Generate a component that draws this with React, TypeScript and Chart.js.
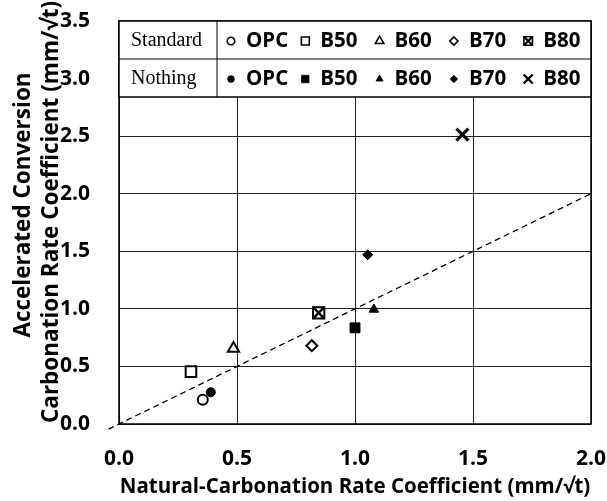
import React, { useEffect, useRef } from "react";
import { Chart, registerables } from "chart.js";
import { drawPoint } from "chart.js/helpers";

Chart.register(...registerables);

// ---- data ----
const seriesNames = ["OPC", "B50", "B60", "B70", "B80"];
const rowLabels = ["Standard", "Nothing"];
const standardX = [0.355, 0.305, 0.485, 0.817, 0.846];
const standardY = [0.21, 0.455, 0.655, 0.68, 0.965];
const nothingX = [0.389, 1.0, 1.08, 1.054, 1.455];
const nothingY = [0.276, 0.835, 0.995, 1.47, 2.513];
const refLineX = [-0.045, 2.0];
const refLineY = [-0.045, 2.0];
const xTickValues = [0, 0.5, 1.0, 1.5, 2.0];
const yTickValues = [0, 0.5, 1.0, 1.5, 2.0, 2.5, 3.0, 3.5];
const xTitle = "Natural-Carbonation Rate Coefficient (mm/\u221At)";
const yTitle = ["Accelerated Conversion", "Carbonation Rate Coefficient (mm/\u221At)"];

// ---- styles ----
type MarkStyle = { pointStyle: any; radius: number; filled: boolean; borderWidth: number; overlay?: MarkStyle };
const standardStyles: MarkStyle[] = [
  { pointStyle: "circle", radius: 5, filled: false, borderWidth: 2 },
  { pointStyle: "rect", radius: 7.5, filled: false, borderWidth: 2 },
  { pointStyle: "triangle", radius: 6.5, filled: false, borderWidth: 2 },
  { pointStyle: "rectRot", radius: 5.5, filled: false, borderWidth: 2 },
  { pointStyle: "rect", radius: 8, filled: false, borderWidth: 2, overlay: { pointStyle: "crossRot", radius: 8, filled: false, borderWidth: 2.5 } },
];
const nothingStyles: MarkStyle[] = [
  { pointStyle: "circle", radius: 4.5, filled: true, borderWidth: 1 },
  { pointStyle: "rect", radius: 7, filled: true, borderWidth: 1 },
  { pointStyle: "triangle", radius: 5.5, filled: true, borderWidth: 1 },
  { pointStyle: "rectRot", radius: 5, filled: true, borderWidth: 1 },
  { pointStyle: "crossRot", radius: 8.5, filled: false, borderWidth: 3 },
];

const SANS = "'Open Sans', 'DejaVu Sans', sans-serif";
const SERIF = "'Liberation Serif', 'DejaVu Serif', serif";

function makeDataset(label: string, x: number, y: number, s: MarkStyle, order: number) {
  return {
    type: "scatter" as const,
    label,
    order,
    data: [{ x, y }],
    pointStyle: s.pointStyle,
    pointRadius: s.radius,
    pointHoverRadius: s.radius,
    pointBorderWidth: s.borderWidth,
    pointBorderColor: "#000",
    pointBackgroundColor: s.filled ? "#000" : "#fff",
    showLine: false,
  };
}

const yTitlePlugin = {
  id: "yTitle",
  afterDraw(chart: any) {
    const { ctx } = chart;
    const xs = [24, 52];
    const ys = [205, 212];
    ctx.save();
    ctx.fillStyle = "#000";
    ctx.font = `bold 22.5px ${SANS}`;
    ctx.textAlign = "center";
    ctx.textBaseline = "middle";
    yTitle.forEach((t, i) => {
      ctx.save();
      ctx.translate(xs[i], ys[i]);
      ctx.rotate(-Math.PI / 2);
      ctx.fillText(t, 0, 0);
      ctx.restore();
    });
    ctx.restore();
  },
};

const tablePlugin = {
  id: "legendTable",
  afterDraw(chart: any) {
    const { ctx, chartArea } = chart;
    const left = chartArea.left;
    const right = chartArea.right;
    const top = chartArea.top;
    const rowH = 38;
    const bottom = top + 2 * rowH;
    const sep = left + 98;
    ctx.save();
    ctx.strokeStyle = "#000";
    ctx.lineWidth = 1.5;
    ctx.strokeRect(left, chartArea.top, right - left, chartArea.bottom - chartArea.top);
    ctx.fillStyle = "#fff";
    ctx.fillRect(left, top, right - left, bottom - top);
    ctx.lineWidth = 1.5;
    ctx.strokeRect(left, top, right - left, bottom - top);
    ctx.beginPath();
    ctx.moveTo(left, top + rowH);
    ctx.lineTo(right, top + rowH);
    ctx.moveTo(sep, top);
    ctx.lineTo(sep, bottom);
    ctx.lineWidth = 1;
    ctx.stroke();

    const rows = [standardStyles, nothingStyles];
    rows.forEach((styles, r) => {
      const cy = top + rowH * r + rowH / 2 + 1;
      ctx.fillStyle = "#000";
      ctx.font = `20px ${SERIF}`;
      ctx.textAlign = "left";
      ctx.textBaseline = "middle";
      ctx.fillText(rowLabels[r], left + 12, cy);
      styles.forEach((s, i) => {
        const mx = sep + 14 + i * 74.3;
        const draw = (st: MarkStyle, scale: number) => {
          ctx.save();
          ctx.strokeStyle = "#000";
          ctx.fillStyle = st.filled ? "#000" : "#fff";
          ctx.lineWidth = st.borderWidth * 0.8;
          drawPoint(ctx, { pointStyle: st.pointStyle, radius: st.radius * scale, borderWidth: st.borderWidth * 0.8, rotation: 0 }, mx, cy);
          ctx.restore();
        };
        draw(s, 0.75);
        if (s.overlay) draw(s.overlay, 0.75);
        ctx.fillStyle = "#000";
        ctx.font = `bold 20.5px ${SANS}`;
        ctx.textAlign = "left";
        ctx.textBaseline = "middle";
        ctx.fillText(seriesNames[i], mx + 15, cy);
      });
    });
    ctx.restore();
  },
};

export default function App() {
  const ref = useRef<HTMLCanvasElement | null>(null);
  useEffect(() => {
    if (!ref.current) return;
    const datasets: any[] = [];
    datasets.push({
      type: "line" as const,
      label: "ref",
      order: 10,
      data: refLineX.map((x, i) => ({ x, y: refLineY[i] })),
      borderColor: "#000",
      borderWidth: 1.3,
      borderDash: [6, 4],
      pointRadius: 0,
      fill: false,
      clip: false,
    });
    seriesNames.forEach((n, i) => {
      datasets.push(makeDataset("Standard " + n, standardX[i], standardY[i], standardStyles[i], 5));
      const ov = standardStyles[i].overlay;
      if (ov) datasets.push(makeDataset("Standard " + n + " x", standardX[i], standardY[i], ov, 1));
    });
    seriesNames.forEach((n, i) => {
      datasets.push(makeDataset("Nothing " + n, nothingX[i], nothingY[i], nothingStyles[i], 3));
    });

    const chart = new Chart(ref.current, {
      type: "scatter",
      data: { datasets },
      plugins: [tablePlugin, yTitlePlugin],
      options: {
        responsive: false,
        animation: false,
        devicePixelRatio: 1,
        layout: { padding: { left: 0, right: 16, top: 21, bottom: 0 } },
        plugins: { legend: { display: false }, tooltip: { enabled: false } },
        scales: {
          x: {
            type: "linear",
            min: 0,
            max: 2,
            afterBuildTicks: (s: any) => { s.ticks = xTickValues.map((v) => ({ value: v })); },
            afterFit: (s: any) => { s.height = 77; s.paddingLeft = 0; s.paddingRight = 0; s.paddingTop = 0; s.paddingBottom = 0; },
            grid: { color: "#222", lineWidth: 1, drawTicks: false },
            border: { display: false },
            ticks: {
              padding: 22,
              color: "#000",
              font: { family: SANS, size: 21, weight: "bold", lineHeight: 1.2 },
              callback: (v: any) => Number(v).toFixed(1),
              maxRotation: 0,
            },
            title: {
              display: true,
              text: xTitle,
              color: "#000",
              font: { family: SANS, size: 20.5, weight: "bold", lineHeight: 1.15 },
              padding: { top: 0, bottom: 2 },
            },
          },
          y: {
            type: "linear",
            min: 0,
            max: 3.5,
            afterBuildTicks: (s: any) => { s.ticks = yTickValues.map((v) => ({ value: v })); },
            afterFit: (s: any) => { s.width = 119; s.paddingLeft = 0; s.paddingRight = 0; s.paddingTop = 0; s.paddingBottom = 0; },
            grid: { color: "#222", lineWidth: 1, drawTicks: false },
            border: { display: false },
            ticks: {
              padding: 29,
              color: "#000",
              font: { family: SANS, size: 21, weight: "bold", lineHeight: 1.2 },
              callback: (v: any) => Number(v).toFixed(1),
            },
            title: { display: false },
          },
        },
      } as any,
    });
    return () => chart.destroy();
  }, []);
  return (
    <div style={{ position: "absolute", left: 0, top: 0, width: 607, height: 501, background: "#fff" }}>
      <canvas ref={ref} width={607} height={501} style={{ display: "block" }} />
    </div>
  );
}
